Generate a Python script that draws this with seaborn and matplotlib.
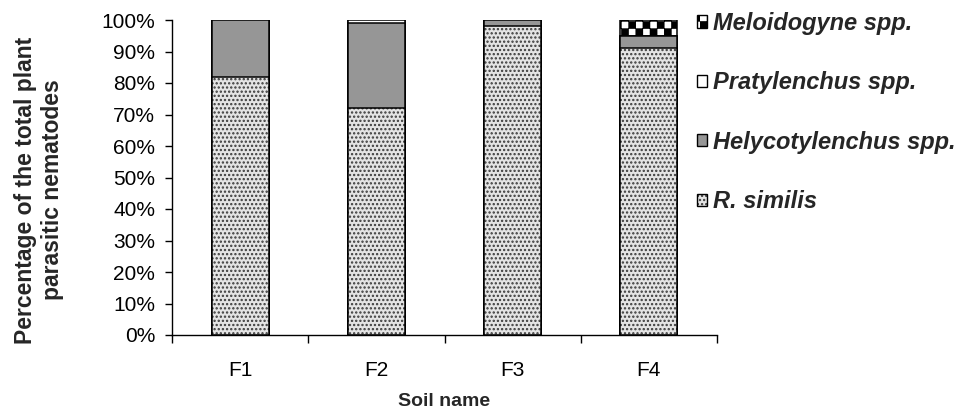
import numpy as np
import pandas as pd
import matplotlib
matplotlib.use("Agg")
import matplotlib.pyplot as plt
import matplotlib.hatch as mhatch
import matplotlib.patches as mpatches
from matplotlib.path import Path
from matplotlib.colors import to_rgba
from matplotlib.ticker import PercentFormatter, FixedLocator
import seaborn as sns

# ---------------- data ----------------
soils = ["F1", "F2", "F3", "F4"]
r_similis = [82, 72, 98, 91]
helycotylenchus = [18, 27, 2, 4]
pratylenchus = [0, 1, 0, 0]
meloidogyne = [0, 0, 0, 5]
species = ["R. similis", "Helycotylenchus spp.", "Pratylenchus spp.", "Meloidogyne spp."]


# ---------------- custom checkerboard hatch (replaces 'o') ----------------
class CheckerHatch(mhatch.HatchPatternBase):
    def __init__(self, hatch, density):
        self.n = 14 if "o" in hatch else 0
        self.cells = [(i, j) for i in range(self.n) for j in range(self.n) if (i + j) % 2 == 0]
        self.num_vertices = len(self.cells) * 5

    def set_vertices_and_codes(self, vertices, codes):
        s = 1.0 / self.n
        e = 0.005
        k = 0
        for i, j in self.cells:
            x0, y0 = i * s + e, j * s + e
            x1, y1 = (i + 1) * s - e, (j + 1) * s - e
            vertices[k:k + 5] = [(x0, y0), (x1, y0), (x1, y1), (x0, y1), (x0, y0)]
            codes[k:k + 5] = [Path.MOVETO, Path.LINETO, Path.LINETO, Path.LINETO, Path.CLOSEPOLY]
            k += 5


mhatch._hatch_types = [CheckerHatch if t is mhatch.SmallCircles else t
                       for t in mhatch._hatch_types]

sns.set_theme(style="white")
plt.rcParams["font.family"] = ["Liberation Sans", "DejaVu Sans"]
plt.rcParams["hatch.linewidth"] = 1.1

fig = plt.figure(figsize=(9.56, 4.16), dpi=100)
L, R, B, T = 172 / 956, 717 / 956, 1 - 335 / 416, 1 - 20 / 416
ax = fig.add_axes([L, B, R - L, T - B])

df = pd.DataFrame({"soil": soils,
                   "s1": r_similis,
                   "s2": helycotylenchus,
                   "s3": pratylenchus,
                   "s4": meloidogyne})
df["c1"] = df["s1"]
df["c2"] = df["c1"] + df["s2"]
df["c3"] = df["c2"] + df["s3"]
df["c4"] = df["c3"] + df["s4"]

DOT_FACE = "#e4e4e4"
DOT_COLOR = "#3a3a3a"
GRAY = "#969696"

styles = {
    "c4": dict(face="white", hatch="o", hcolor="black"),
    "c3": dict(face="white", hatch=None, hcolor="black"),
    "c2": dict(face=GRAY, hatch=None, hcolor="black"),
    "c1": dict(face=DOT_FACE, hatch="....", hcolor=DOT_COLOR),
}

for col in ["c4", "c3", "c2", "c1"]:
    st = styles[col]
    sns.barplot(data=df, x="soil", y=col, color=st["face"], saturation=1,
                width=0.42, edgecolor="black", linewidth=1.1, ax=ax, errorbar=None)
    for p in ax.containers[-1]:
        p.set_facecolor(st["face"])
        if st["hatch"]:
            p.set_hatch(st["hatch"])
            p._hatch_color = to_rgba(st["hcolor"])

ax.set_xlim(-0.5, 3.5)
ax.set_ylim(0, 100)
ax.set_yticks(np.arange(0, 101, 10))
ax.yaxis.set_major_formatter(PercentFormatter(decimals=0))
ax.xaxis.set_minor_locator(FixedLocator([-0.5, 0.5, 1.5, 2.5, 3.5]))
ax.tick_params(axis="x", which="major", length=0, pad=19, labelsize=15, colors="black")
ax.tick_params(axis="x", which="minor", length=6, width=1, direction="out",
               bottom=True, color="black")
ax.tick_params(axis="y", which="major", length=5, width=1, direction="out",
               left=True, pad=7, labelsize=15, colors="black")
for s in ["top", "right"]:
    ax.spines[s].set_visible(False)
for s in ["left", "bottom"]:
    ax.spines[s].set_color("black")
    ax.spines[s].set_linewidth(1)
ax.set_xlabel("")
ax.set_ylabel("")

fig.text(39 / 956, 1 - 190 / 416, "Percentage of the total plant\nparasitic nematodes",
         rotation=90, ha="center", va="center", multialignment="center",
         fontsize=16.5, fontweight="bold", linespacing=1.2)
fig.text(444 / 956, 1 - 401 / 416, "Soil name", ha="center", va="center",
         fontsize=14, fontweight="bold")

handles = [
    mpatches.Patch(facecolor="white", edgecolor="black", hatch="o", label="Meloidogyne spp."),
    mpatches.Patch(facecolor="white", edgecolor="black", label="Pratylenchus spp."),
    mpatches.Patch(facecolor=GRAY, edgecolor="black", label="Helycotylenchus spp."),
    mpatches.Patch(facecolor=DOT_FACE, edgecolor="black", hatch="....", label="R. similis"),
]
leg = fig.legend(handles=handles, loc="upper left", bbox_to_anchor=(697 / 956, 1 - 12 / 416),
                 frameon=False, borderpad=0, borderaxespad=0, handlelength=0.42,
                 handleheight=0.42, handletextpad=0.25, labelspacing=1.54,
                 prop=dict(family=["Liberation Sans"], weight="bold", style="italic", size=17))
for h in leg.legend_handles:
    if h.get_hatch() == "....":
        h._hatch_color = to_rgba(DOT_COLOR)

fig.savefig("out.png", dpi=100)
